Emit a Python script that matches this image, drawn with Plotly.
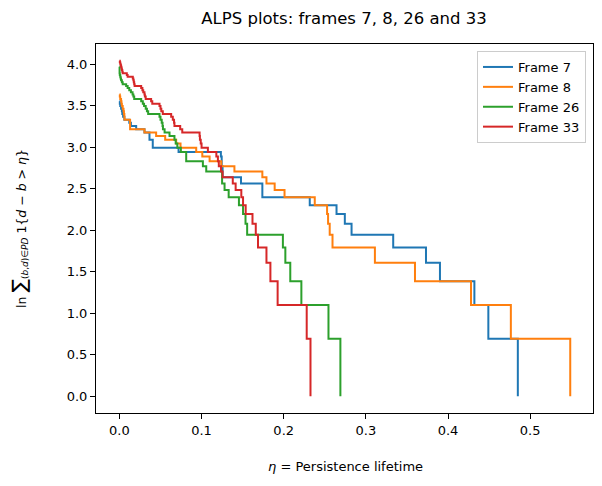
import numpy as np
import plotly.graph_objects as go

# Step vertices: curve is at ln(n) from eta[i] to eta[i+1] (post-step)
f7_eta = [0.0, 0.0005, 0.001, 0.002, 0.003, 0.0035, 0.0045, 0.006, 0.012, 0.014,
          0.0204, 0.0305, 0.0366, 0.0406, 0.072, 0.1235, 0.1245, 0.1256, 0.148, 0.174,
          0.2317, 0.2643, 0.2744, 0.2826, 0.3333, 0.3732, 0.3902, 0.4321, 0.4491, 0.485]
f7_n = [35, 34, 33, 32, 31, 30, 29, 28, 27, 26,
        25, 24, 22, 20, 19, 18, 16, 14, 13, 11,
        10, 9, 8, 7, 6, 5, 4, 3, 2, 1]

f8_eta = [0.0, 0.0005, 0.001, 0.002, 0.0025, 0.003, 0.004, 0.005, 0.0055, 0.006,
          0.0062, 0.013, 0.0305, 0.0447, 0.0557, 0.0691, 0.0744, 0.0935, 0.1009, 0.1098,
          0.124, 0.140, 0.174, 0.179, 0.189, 0.201, 0.2378, 0.2528, 0.254, 0.256,
          0.2594, 0.311, 0.3598, 0.428, 0.4765, 0.5488]
f8_n = [38, 37, 36, 35, 34, 33, 32, 31, 30, 29,
        28, 25, 24, 23, 22, 21, 20, 19, 18, 17,
        16, 15, 14, 13, 12, 11, 10, 9, 8, 7,
        6, 5, 4, 3, 2, 1]

f26_eta = [0.0, 0.0002, 0.0005, 0.001, 0.0015, 0.002, 0.003, 0.004, 0.0082, 0.010,
           0.012, 0.014, 0.016, 0.017, 0.018, 0.0265, 0.0285, 0.030, 0.032, 0.0335,
           0.035, 0.0488, 0.050, 0.0515, 0.0525, 0.053, 0.055, 0.061, 0.067, 0.0685,
           0.0705, 0.0748, 0.0813, 0.1016, 0.1057, 0.125, 0.128, 0.133, 0.1455, 0.1505,
           0.1535, 0.1555, 0.199, 0.202, 0.208, 0.2215, 0.2545, 0.269]
f26_n = [53, 49, 48, 47, 46, 45, 44, 43, 42, 41,
         40, 39, 38, 37, 36, 35, 34, 33, 32, 31,
         30, 29, 28, 27, 26, 25, 24, 23, 22, 21,
         20, 19, 17, 16, 15, 13, 12, 11, 10, 9,
         8, 7, 6, 5, 4, 3, 2, 1]

f33_eta = [0.0, 0.0005, 0.001, 0.0015, 0.002, 0.0025, 0.003, 0.0035, 0.004, 0.009,
           0.010, 0.0163, 0.017, 0.0175, 0.018, 0.0185, 0.0265, 0.028, 0.029, 0.0305,
           0.031, 0.032, 0.0386, 0.040, 0.0488, 0.050, 0.051, 0.0528, 0.063, 0.065,
           0.0665, 0.067, 0.074, 0.0765, 0.0976, 0.098, 0.099, 0.100, 0.1077, 0.118,
           0.1199, 0.121, 0.1237, 0.1256, 0.138, 0.1415, 0.1484, 0.1505, 0.1537, 0.162,
           0.166, 0.1687, 0.179, 0.1838, 0.1926, 0.228, 0.2326]
f33_n = [57, 56, 55, 54, 53, 52, 51, 50, 49, 48,
         47, 46, 45, 44, 43, 42, 41, 40, 39, 38,
         37, 36, 35, 34, 33, 32, 31, 30, 29, 28,
         27, 26, 25, 24, 23, 22, 21, 20, 19, 18,
         17, 16, 15, 14, 13, 12, 11, 10, 9, 8,
         7, 6, 5, 4, 3, 2, 1]

series_names = ["Frame 7", "Frame 8", "Frame 26", "Frame 33"]
series_colors = ["#1f77b4", "#ff7f0e", "#2ca02c", "#d62728"]
x_ticks = [0.0, 0.1, 0.2, 0.3, 0.4, 0.5]
y_ticks = [0.0, 0.5, 1.0, 1.5, 2.0, 2.5, 3.0, 3.5, 4.0]

fig = go.Figure()
for name, color, xs, ns in zip(series_names, series_colors,
                               [f7_eta, f8_eta, f26_eta, f33_eta],
                               [f7_n, f8_n, f26_n, f33_n]):
    fig.add_trace(go.Scatter(x=xs, y=np.log(np.array(ns, dtype=float)), mode="lines",
                             line=dict(color=color, width=2, shape="hv"), name=name))

W, H = 602, 486
ml, mr, mt, mb = 96, 9, 44, 73
pw, ph = W - ml - mr, H - mt - mb

def px(x):
    return (x - ml) / pw

def py(y):
    return (H - mb - y) / ph

font_family = "DejaVu Sans"
axis_common = dict(showline=True, linecolor="black", linewidth=1, mirror=True,
                   ticks="outside", ticklen=5, tickcolor="black", showgrid=False,
                   zeroline=False, automargin=False,
                   tickfont=dict(family=font_family, size=13, color="black"))

ylabel = ("ln <span style='font-size:20px'>∑</span>"
          "<sub><span style='font-size:9px'>(<i>b</i>,<i>d</i>)∈<i>PD</i></span></sub> "
          "1{<i>d</i> − <i>b</i> &gt; <i>η</i>}")

fig.update_layout(
    width=W, height=H,
    margin=dict(l=ml, r=mr, t=mt, b=mb),
    plot_bgcolor="white", paper_bgcolor="white",
    font=dict(family=font_family, size=13, color="black"),
    title=dict(text="ALPS plots: frames 7, 8, 26 and 33", x=px(344), xref="paper",
               xanchor="center", y=1 - 18 / H, yref="container", yanchor="middle",
               font=dict(family=font_family, size=16.5, color="black")),
    xaxis=dict(range=[-0.0285, 0.5765], tickvals=x_ticks, tickformat=".1f", **axis_common),
    yaxis=dict(range=[-0.202, 4.245], tickvals=y_ticks, tickformat=".1f",
               title=dict(text=ylabel, standoff=37,
                          font=dict(family=font_family, size=12.5, color="black")),
               **axis_common),
    legend=dict(x=px(586), y=py(51), xanchor="right", yanchor="top",
                bgcolor="rgba(255,255,255,0.8)", bordercolor="#cccccc", borderwidth=1,
                font=dict(family=font_family, size=13, color="black"),
                itemwidth=30),
    showlegend=True,
)

fig.add_annotation(text="<i>η</i> = Persistence lifetime", x=px(345), y=py(467),
                   xref="paper", yref="paper", xanchor="center", yanchor="middle",
                   showarrow=False, font=dict(family=font_family, size=13, color="black"))

fig.write_html("out.html")
